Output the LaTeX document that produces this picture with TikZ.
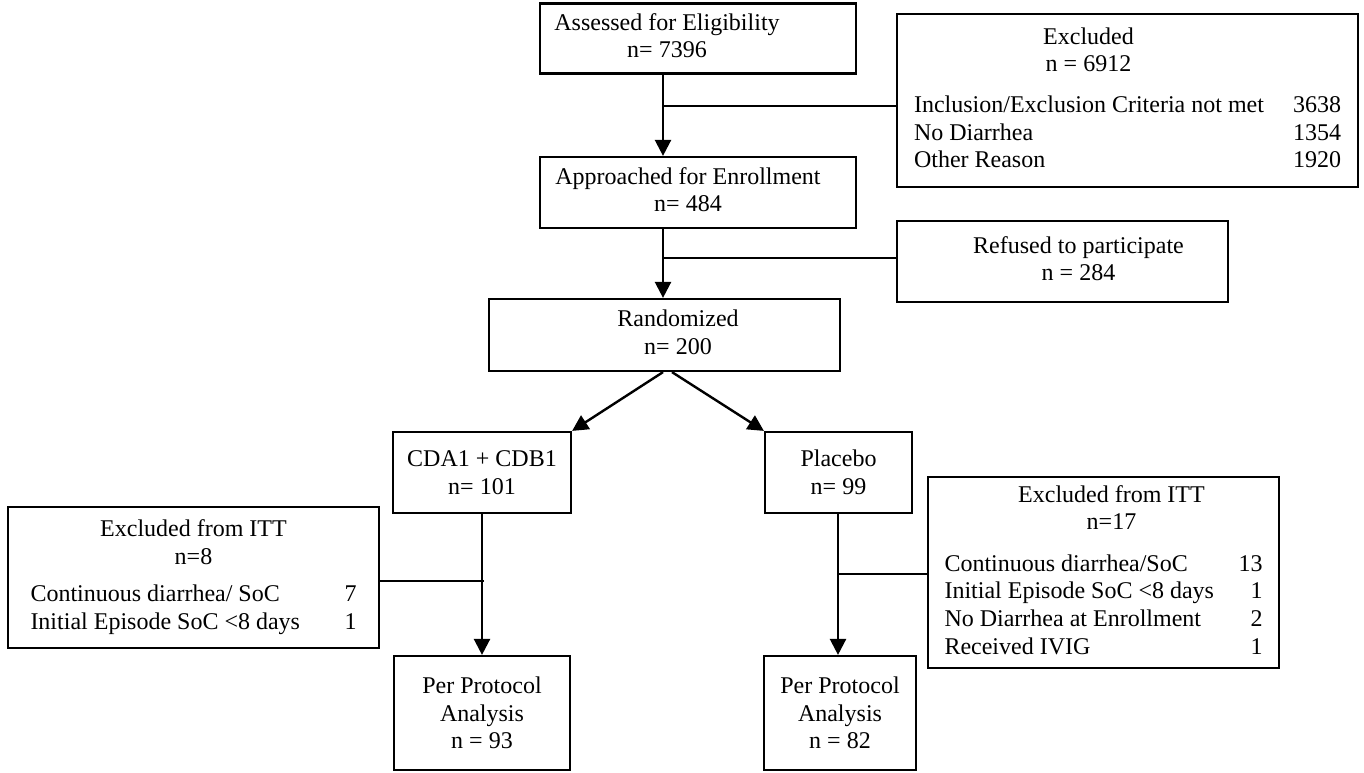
\documentclass[tikz,border=0pt]{standalone}
\usepackage{fontspec}
\setmainfont{Liberation Serif}
\usetikzlibrary{arrows.meta}

\tikzset{
	box/.style={draw, line width=2.2pt, inner sep=0pt, align=center, font=\fontsize{24}{27.6}\selectfont},
	arr/.style={line width=2.4pt, -{Triangle[length=16pt,width=16pt]}},
	link/.style={line width=2.4pt},
}

\begin{document}
\begin{tikzpicture}[x=1pt,y=-1pt]
		\useasboundingbox (0,0) rectangle (1364,772);

		\node[box, minimum width=316pt, minimum height=70pt] (assess) at (698,38.5) {\begin{tabular}{@{}c@{\hspace{62pt}}}Assessed for Eligibility\\n= 7396\end{tabular}};
		\node[box, minimum width=461pt, minimum height=173pt] (excl) at (1127.5,100.5) {\begin{tabular*}{427pt}{@{}l@{\extracolsep{\fill}}r@{}}\multicolumn{2}{c}{Excluded\hspace*{78pt}}\\\multicolumn{2}{c}{n = 6912\hspace*{78pt}}\\[13pt]Inclusion/Exclusion Criteria not met & 3638\\No Diarrhea & 1354\\Other Reason & 1920\end{tabular*}};
		\node[box, minimum width=316pt, minimum height=71pt] (approach) at (698,192.5) {\begin{tabular}{@{}c@{\hspace{20pt}}}Approached for Enrollment\\n= 484\end{tabular}};
		\node[box, minimum width=331pt, minimum height=81pt] (refused) at (1062.5,261.5) {\begin{tabular}{@{\hspace{32pt}}c@{}}Refused to participate\\n = 284\end{tabular}};
		\node[box, minimum width=351pt, minimum height=72pt] (rand) at (664.5,335) {\begin{tabular}{@{\hspace{27pt}}c@{}}Randomized\\n= 200\end{tabular}};

		\node[box, minimum width=178pt, minimum height=81pt] (cda) at (482,472.5) {CDA1 + CDB1\\n= 101};
		\node[box, minimum width=147pt, minimum height=81pt] (plac) at (838.5,472.5) {Placebo\\n= 99};

		\node[box, minimum width=371pt, minimum height=141pt] (itt1) at (193.5,577.5) {\begin{tabular*}{326pt}{@{}l@{\extracolsep{\fill}}r@{}}\multicolumn{2}{c}{Excluded from ITT}\\\multicolumn{2}{c}{n=8}\\[10pt]Continuous diarrhea/ SoC & 7\\Initial Episode SoC <8 days & 1\end{tabular*}};
		\node[box, minimum width=351pt, minimum height=191pt] (itt2) at (1103.5,572.5) {\begin{tabular*}{318pt}{@{}l@{\extracolsep{\fill}}r@{}}\multicolumn{2}{c}{\hspace*{16pt}Excluded from ITT}\\\multicolumn{2}{c}{\hspace*{16pt}n=17}\\[14pt]Continuous diarrhea/SoC & 13\\Initial Episode SoC <8 days & 1\\No Diarrhea at Enrollment & 2\\Received IVIG & 1\end{tabular*}};

		\node[box, minimum width=176pt, minimum height=114pt] (pp1) at (482,713) {Per Protocol\\Analysis\\n = 93};
		\node[box, minimum width=152pt, minimum height=114pt] (pp2) at (840,713) {Per Protocol\\Analysis\\n = 82};

		\coordinate (j1) at (663,106);
		\coordinate (j2) at (663,258);
		\coordinate (j3) at (482,581);
		\coordinate (j4) at (838,574);

		\draw[arr] (j1 |- assess.south) to (j1 |- approach.north);
		\draw[link] (j1) to (j1 -| excl.west);
		\draw[arr] (j2 |- approach.south) to (j2 |- rand.north);
		\draw[link] (j2) to (j2 -| refused.west);
		\draw[arr] ([xshift=-1.5pt]rand.south) to (cda.north east);
		\draw[arr] ([xshift=7.5pt]rand.south) to (plac.north west);
		\draw[arr] (j3 |- cda.south) to (j3 |- pp1.north);
		\draw[link] ([xshift=2pt]j3) to (j3 -| itt1.east);
		\draw[arr] (j4 |- plac.south) to (j4 |- pp2.north);
		\draw[link] (j4) to (j4 -| itt2.west);
\end{tikzpicture}
\end{document}
